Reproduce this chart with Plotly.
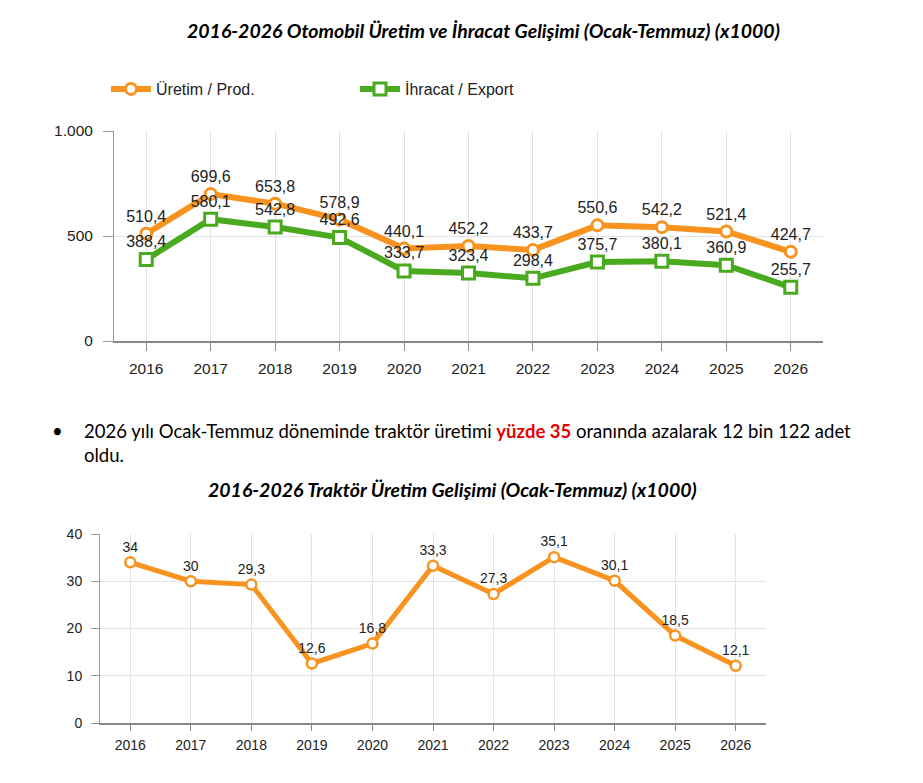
import plotly.graph_objects as go

years = ["2016", "2017", "2018", "2019", "2020", "2021", "2022", "2023", "2024", "2025", "2026"]
uretim = [510.4, 699.6, 653.8, 578.9, 440.1, 452.2, 433.7, 550.6, 542.2, 521.4, 424.7]
ihracat = [388.4, 580.1, 542.8, 492.6, 333.7, 323.4, 298.4, 375.7, 380.1, 360.9, 255.7]
traktor = [34, 30, 29.3, 12.6, 16.8, 33.3, 27.3, 35.1, 30.1, 18.5, 12.1]

top_ticks = [0, 500, 1000]
top_ticktext = ["0", "500", "1.000"]
bot_ticks = [0, 10, 20, 30, 40]

# page body has an 8px margin, so the figure is drawn 16px smaller
OFF = 8
W, H = 923 - 2 * OFF, 783 - 2 * OFF
ORANGE = "#F7931E"
GREEN = "#4AAA1F"
TITLE_FONT = "Lato, 'Open Sans', sans-serif"
CHART_FONT = "'Liberation Sans', Arial, sans-serif"


def lab(vals):
    return [(f"{v:g}").replace(".", ",") for v in vals]


def px_x(p):
    return (p - OFF) / W


def px_y(p):
    return (H - (p - OFF)) / H


fig = go.Figure()

fig.add_trace(go.Scatter(
    x=years, y=uretim, name="Üretim / Prod.", mode="lines+markers+text",
    text=lab(uretim), textposition="top center",
    textfont=dict(family=CHART_FONT, size=16, color="#222"),
    line=dict(color=ORANGE, width=6),
    marker=dict(symbol="circle", size=11, color="white", line=dict(color=ORANGE, width=3)),
    xaxis="x", yaxis="y", cliponaxis=False,
))
fig.add_trace(go.Scatter(
    x=years, y=ihracat, name="İhracat / Export", mode="lines+markers+text",
    text=lab(ihracat), textposition="top center",
    textfont=dict(family=CHART_FONT, size=16, color="#222"),
    line=dict(color=GREEN, width=6),
    marker=dict(symbol="square", size=12, color="white", line=dict(color=GREEN, width=3)),
    xaxis="x", yaxis="y", cliponaxis=False,
))
fig.add_trace(go.Scatter(
    x=years, y=traktor, name="Traktör", mode="lines+markers+text", showlegend=False,
    text=lab(traktor), textposition="top center",
    textfont=dict(family=CHART_FONT, size=14, color="#222"),
    line=dict(color=ORANGE, width=5),
    marker=dict(symbol="circle", size=10, color="white", line=dict(color=ORANGE, width=2.5)),
    xaxis="x2", yaxis="y2", cliponaxis=False,
))

grid = "#e3e3e3"
fig.update_layout(
    width=W, height=H,
    margin=dict(l=0, r=0, t=0, b=0),
    paper_bgcolor="white", plot_bgcolor="white",
    separators=",.",
    font=dict(family=CHART_FONT, color="#222"),
    xaxis=dict(domain=[px_x(114), px_x(823)], anchor="y", type="category", automargin=False,
               range=[-0.5, 10.5], showgrid=True, gridcolor=grid,
               showline=True, linecolor="#888", linewidth=1.5,
               ticks="outside", ticklen=8, tickcolor="#888", ticklabelstandoff=5,
               tickfont=dict(size=15.5, color="#222")),
    yaxis=dict(domain=[px_y(341), px_y(131)], anchor="x", range=[0, 1000], automargin=False,
               tickvals=top_ticks, ticktext=top_ticktext,
               showgrid=True, gridcolor=grid, zeroline=False,
               showline=True, linecolor="#999", linewidth=1,
               ticks="outside", ticklen=10, tickcolor="#999", ticklabelstandoff=7,
               tickfont=dict(size=15.5, color="#222")),
    xaxis2=dict(domain=[px_x(100), px_x(766)], anchor="y2", type="category", automargin=False,
                range=[-0.5, 10.5], showgrid=True, gridcolor=grid,
                showline=True, linecolor="#888", linewidth=1.5,
                ticks="outside", ticklen=6, tickcolor="#888", ticklabelstandoff=2,
                tickfont=dict(size=14, color="#222")),
    yaxis2=dict(domain=[px_y(723), px_y(534)], anchor="x2", range=[0, 40], automargin=False,
                tickvals=bot_ticks,
                showgrid=True, gridcolor=grid, zeroline=False,
                showline=True, linecolor="#999", linewidth=1,
                ticks="outside", ticklen=8, tickcolor="#999", ticklabelstandoff=6,
                tickfont=dict(size=14, color="#222")),
    legend=dict(orientation="h", x=px_x(106), y=px_y(89), xanchor="left", yanchor="middle",
                font=dict(family=CHART_FONT, size=16, color="#222"),
                entrywidth=194, itemwidth=40, bgcolor="rgba(0,0,0,0)"),
    showlegend=True,
)

fig.add_annotation(text="<b><i>2016-2026 Otomobil Üretim ve İhracat Gelişimi (Ocak-Temmuz) (x1000)</i></b>",
                   x=px_x(483), y=px_y(31), xref="paper", yref="paper", showarrow=False,
                   xanchor="center", yanchor="middle",
                   font=dict(family=TITLE_FONT, size=19.5, color="black"))
fig.add_annotation(text="•", x=px_x(57), y=px_y(431), xref="paper", yref="paper", showarrow=False,
                   xanchor="center", yanchor="middle", font=dict(family=TITLE_FONT, size=18.5, color="black"))
fig.add_annotation(text="2026 yılı Ocak-Temmuz döneminde traktör üretimi <b><span style='color:#e60000'>yüzde 35</span></b> oranında azalarak 12 bin 122 adet",
                   x=px_x(82), y=px_y(431), xref="paper", yref="paper", showarrow=False,
                   xanchor="left", yanchor="middle", font=dict(family=TITLE_FONT, size=18.5, color="black"))
fig.add_annotation(text="oldu.", x=px_x(82), y=px_y(455), xref="paper", yref="paper", showarrow=False,
                   xanchor="left", yanchor="middle", font=dict(family=TITLE_FONT, size=18.5, color="black"))
fig.add_annotation(text="<b><i>2016-2026 Traktör Üretim Gelişimi (Ocak-Temmuz) (x1000)</i></b>",
                   x=px_x(452), y=px_y(489), xref="paper", yref="paper", showarrow=False,
                   xanchor="center", yanchor="middle",
                   font=dict(family=TITLE_FONT, size=19.5, color="black"))

fig.write_html("out.html")
